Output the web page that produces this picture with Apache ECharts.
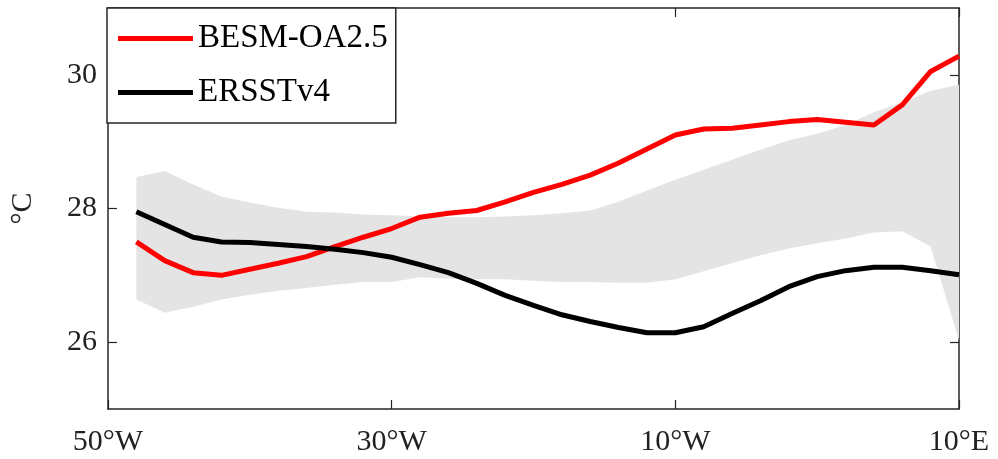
<!DOCTYPE html>
<html>
<head>
<meta charset="utf-8">
<script src="https://cdn.jsdelivr.net/npm/echarts@6/dist/echarts.min.js"></script>
<style>
html, body { margin: 0; padding: 0; background: #fff; }
#main { width: 998px; height: 459px; }
</style>
</head>
<body>
<div id="main"></div>
<script>
// longitude (deg, negative = west)
var lonList = [-48, -46, -44, -42, -40, -38, -36, -34, -32, -30, -28, -26, -24, -22, -20,
               -18, -16, -14, -12, -10, -8, -6, -4, -2, 0, 2, 4, 6, 8, 10];
var besmList = [27.50, 27.22, 27.04, 27.00, 27.09, 27.18, 27.28, 27.43, 27.57, 27.70,
                27.87, 27.93, 27.97, 28.10, 28.24, 28.36, 28.50, 28.68, 28.89, 29.10,
                29.19, 29.20, 29.25, 29.30, 29.33, 29.29, 29.25, 29.55, 30.05, 30.28];
var ersstList = [27.95, 27.76, 27.57, 27.50, 27.49, 27.46, 27.43, 27.39, 27.34, 27.27,
                 27.16, 27.04, 26.88, 26.70, 26.55, 26.41, 26.31, 26.22, 26.14, 26.14,
                 26.23, 26.43, 26.62, 26.83, 26.98, 27.07, 27.12, 27.12, 27.07, 27.01];
// grey spread band
var bandLow = [26.64, 26.44, 26.53, 26.64, 26.71, 26.77, 26.81, 26.86, 26.90, 26.90,
               26.97, 26.95, 26.94, 26.94, 26.92, 26.90, 26.90, 26.89, 26.89, 26.94,
               27.06, 27.18, 27.30, 27.40, 27.48, 27.55, 27.64, 27.66, 27.43, 26.03];
var bandHigh = [28.47, 28.56, 28.36, 28.18, 28.09, 28.01, 27.95, 27.94, 27.91, 27.90,
                27.88, 27.87, 27.87, 27.88, 27.90, 27.93, 27.97, 28.10, 28.27, 28.43,
                28.58, 28.73, 28.88, 29.02, 29.12, 29.25, 29.44, 29.59, 29.76, 29.85];
var xTickVals = [-50, -30, -10, 10];
var xTickLabels = ['50°W', '30°W', '10°W', '10°E'];
var yTickVals = [26, 28, 30];

var sstChart = {};
var axisColor = '#262626';
var fontName = 'Liberation Serif';

sstChart.pairs = function (ys) {
    var out = [];
    for (var i = 0; i < lonList.length; i++) {
        out.push([lonList[i], ys[i]]);
    }
    return out;
};

// whole band drawn as one polygon, on the first item only
sstChart.renderBand = function (params, api) {
    if (params.dataIndex !== 0) {
        return null;
    }
    var pts = [];
    var i;
    for (i = 0; i < lonList.length; i++) {
        pts.push(api.coord([lonList[i], bandHigh[i]]));
    }
    for (i = lonList.length - 1; i >= 0; i--) {
        pts.push(api.coord([lonList[i], bandLow[i]]));
    }
    return {
        type: 'polygon',
        shape: {points: pts},
        style: {fill: '#e4e4e4'},
        silent: true
    };
};

sstChart.render = function () {
    var myChart = echarts.init(document.getElementById('main'));
    var bandData = [];
    for (var i = 0; i < lonList.length; i++) {
        bandData.push([lonList[i], bandLow[i], bandHigh[i]]);
    }
    var xLabel = function (v) {
        var k = xTickVals.indexOf(v);
        return k >= 0 ? xTickLabels[k] : '';
    };
    var option = {
        animation: false,
        backgroundColor: '#fff',
        grid: {left: 108, right: 39, top: 8, bottom: 50},
        legend: {
            data: ['BESM-OA2.5', 'ERSSTv4'],
            orient: 'vertical',
            left: 107,
            top: 8,
            padding: [14, 8, 14, 11],
            itemGap: 21,
            itemWidth: 75,
            itemHeight: 5,
            itemTextGap: 4,
            icon: 'rect',
            backgroundColor: '#fff',
            borderColor: axisColor,
            borderWidth: 1.5,
            textStyle: {fontFamily: fontName, fontSize: 33, lineHeight: 33, color: '#000'},
            z: 10
        },
        xAxis: [{
            type: 'value', min: -50, max: 10,
            axisLine: {show: true, lineStyle: {color: axisColor, width: 1.5}},
            axisTick: {show: true, inside: true, length: 9, customValues: xTickVals,
                lineStyle: {color: axisColor, width: 1.2}},
            axisLabel: {customValues: xTickVals, formatter: xLabel, margin: 18,
                fontFamily: fontName, fontSize: 30, color: '#222'},
            splitLine: {show: false}
        }, {
            type: 'value', min: -50, max: 10, position: 'top',
            axisLine: {show: true, onZero: false, lineStyle: {color: axisColor, width: 1.5}},
            axisTick: {show: true, inside: true, length: 9, customValues: xTickVals,
                lineStyle: {color: axisColor, width: 1.2}},
            axisLabel: {show: false},
            splitLine: {show: false}
        }],
        yAxis: [{
            type: 'value', min: 25, max: 31,
            name: '°C',
            nameLocation: 'middle',
            nameGap: 70,
            nameTextStyle: {fontFamily: fontName, fontSize: 30, color: '#222'},
            axisLine: {show: true, onZero: false, lineStyle: {color: axisColor, width: 1.5}},
            axisTick: {show: true, inside: true, length: 9, customValues: yTickVals,
                lineStyle: {color: axisColor, width: 1.2}},
            axisLabel: {customValues: yTickVals, margin: 11,
                fontFamily: fontName, fontSize: 30, color: '#222'},
            splitLine: {show: false}
        }, {
            type: 'value', min: 25, max: 31, position: 'right',
            axisLine: {show: true, onZero: false, lineStyle: {color: axisColor, width: 1.5}},
            axisTick: {show: true, inside: true, length: 9, customValues: yTickVals,
                lineStyle: {color: axisColor, width: 1.2}},
            axisLabel: {show: false},
            splitLine: {show: false}
        }],
        series: [{
            name: 'spread',
            type: 'custom',
            renderItem: sstChart.renderBand,
            data: bandData,
            encode: {x: 0, y: [1, 2]},
            silent: true,
            z: 1
        }, {
            name: 'BESM-OA2.5',
            type: 'line',
            data: sstChart.pairs(besmList),
            symbol: 'none',
            color: '#ff0000',
            lineStyle: {color: '#ff0000', width: 5},
            z: 3
        }, {
            name: 'ERSSTv4',
            type: 'line',
            data: sstChart.pairs(ersstList),
            symbol: 'none',
            color: '#000',
            lineStyle: {color: '#000', width: 5},
            z: 3
        }]
    };
    myChart.setOption(option);
};

sstChart.render();
</script>
</body>
</html>
